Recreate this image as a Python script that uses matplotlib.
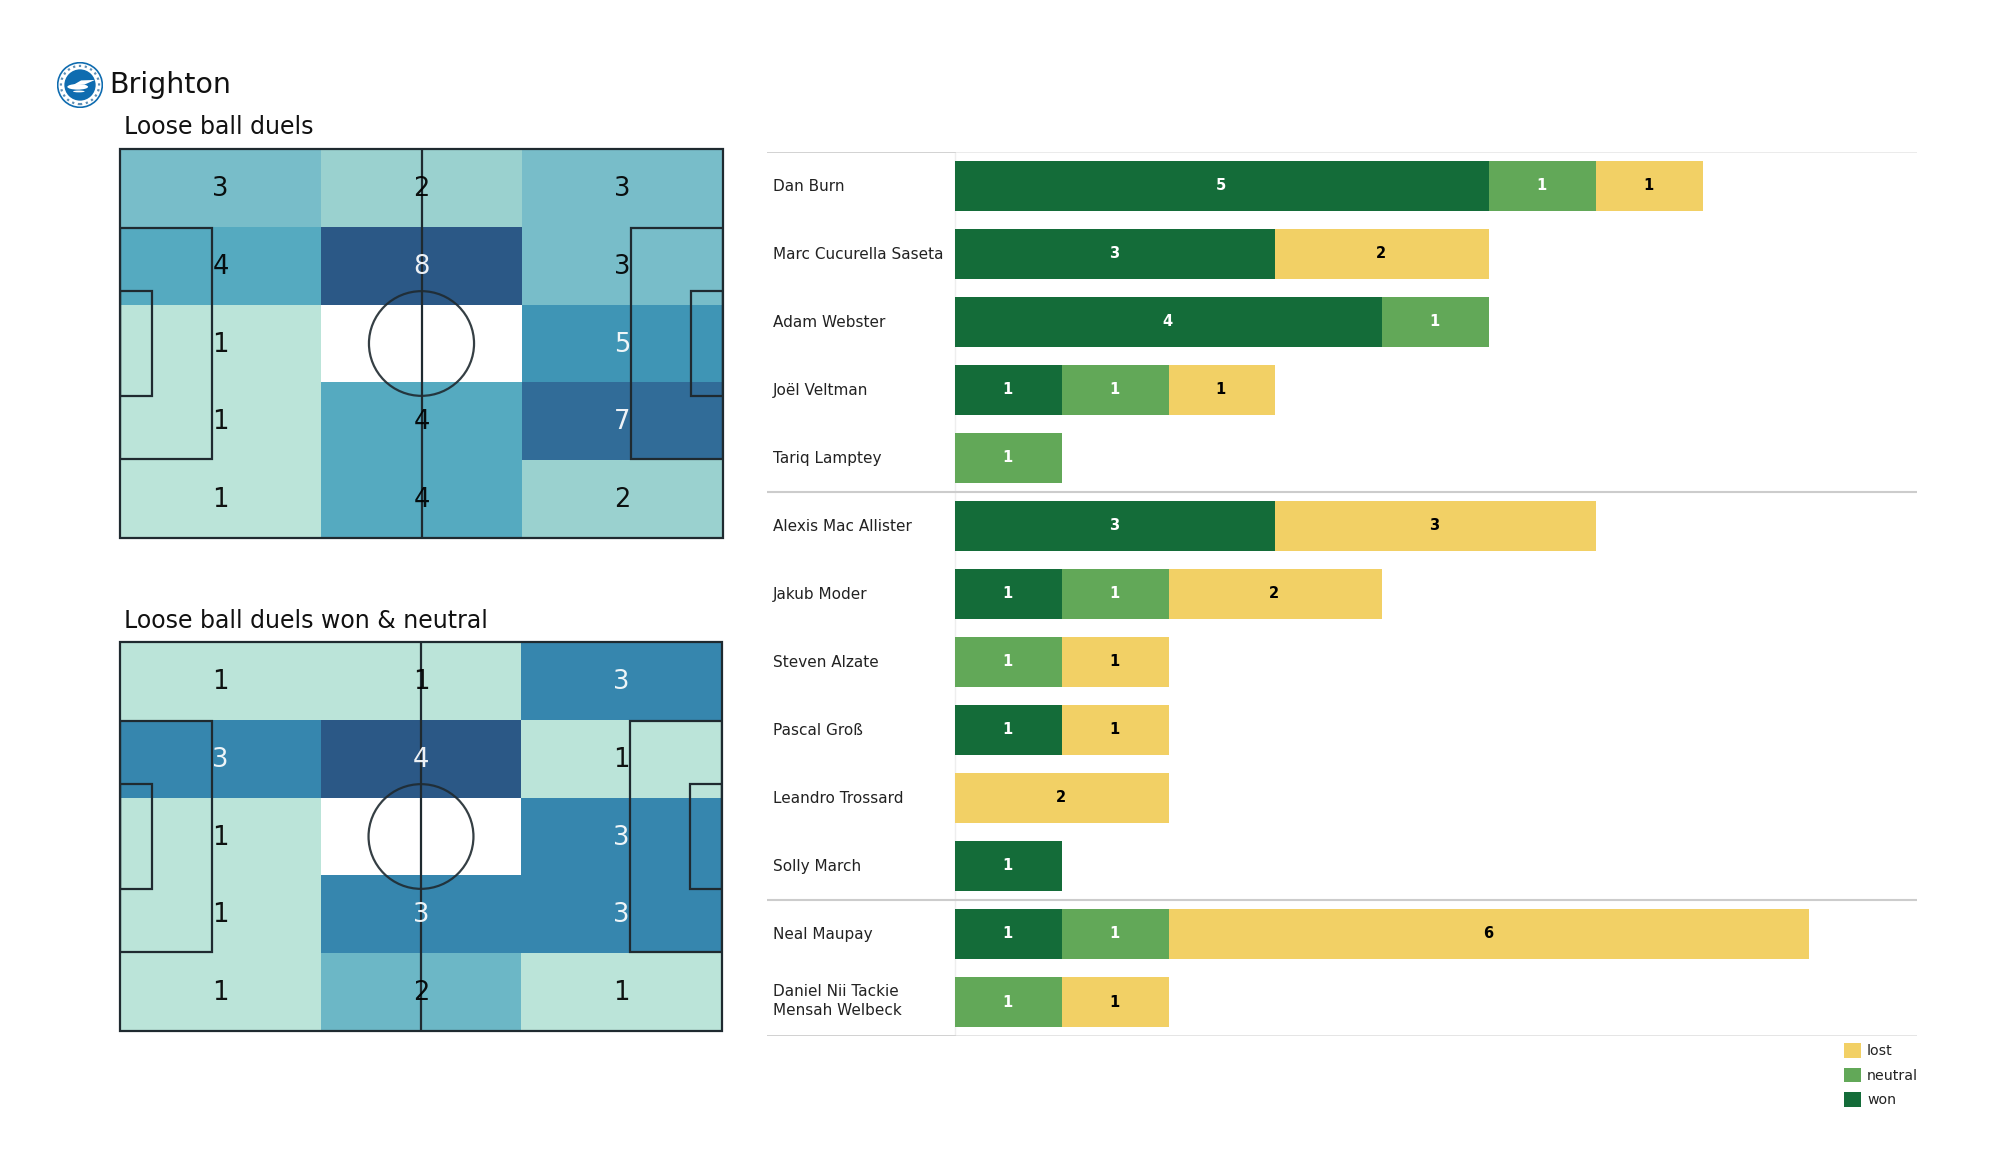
import matplotlib
matplotlib.use("Agg")
import matplotlib.pyplot as plt
import numpy as np
from matplotlib.colors import LinearSegmentedColormap
from matplotlib.patches import Circle, Ellipse, Rectangle, Polygon

# DATA
team = "Brighton"
title_all = "Loose ball duels"
title_won = "Loose ball duels won & neutral"

# rows are top to bottom, columns left to right
duels_all = [[3, 2, 3],
             [4, 8, 3],
             [1, 0, 5],
             [1, 4, 7],
             [1, 4, 2]]
duels_won = [[1, 1, 3],
             [3, 4, 1],
             [1, 0, 3],
             [1, 3, 3],
             [1, 2, 1]]

players = ["Dan Burn", "Marc Cucurella Saseta", "Adam Webster", "Joël Veltman", "Tariq Lamptey",
           "Alexis Mac Allister", "Jakub Moder", "Steven Alzate", "Pascal Groß", "Leandro Trossard",
           "Solly March", "Neal Maupay", "Daniel Nii Tackie\nMensah Welbeck"]
won = [5, 3, 4, 1, 0, 3, 1, 0, 1, 0, 1, 1, 0]
neutral = [1, 0, 1, 1, 1, 0, 1, 1, 0, 0, 0, 1, 1]
lost = [1, 2, 0, 1, 0, 3, 2, 1, 1, 2, 0, 6, 1]
group_ends = [4, 10]

W, H = 2000, 1175
WON_COL = "#146C39"
NEUTRAL_COL = "#62A858"
LOST_COL = "#F2D065"
LINE_COL = "#1f2a30"

heat_cmap = LinearSegmentedColormap.from_list("heat", [
    (0.0, "#BBE4D9"), (0.143, "#9AD1CF"), (0.286, "#78BDC9"), (0.43, "#54AAC0"),
    (0.57, "#3F95B5"), (0.667, "#3686AE"), (0.857, "#316C98"), (1.0, "#2B5886")])
heat_cmap.set_under("white")


def axes_px(fig, x0, y0, x1, y1):
    # pixel box measured from the top left corner of the image
    return fig.add_axes([x0 / W, 1 - y1 / H, (x1 - x0) / W, (y1 - y0) / H])


def draw_pitch(ax, values):
    values = np.array(values)
    vmax = values.max()
    xs = np.linspace(0, 105, 4)
    ys = np.linspace(68, 0, 6)
    ax.pcolormesh(xs, ys, values, cmap=heat_cmap, vmin=1, vmax=vmax, zorder=1)
    for r in range(values.shape[0]):
        for c in range(values.shape[1]):
            v = values[r, c]
            if v == 0:
                continue
            col = "white" if (v - 1) / (vmax - 1) > 0.5 else "black"
            ax.text((xs[c] + xs[c + 1]) / 2, (ys[r] + ys[r + 1]) / 2 - 0.2, str(v), color=col,
                    fontsize=18.5, ha="center", va="center", zorder=3, alpha=0.92)
    lw = 1.6
    ax.add_patch(Rectangle((0, 0), 105, 68, fill=False, ec=LINE_COL, lw=lw, zorder=2, clip_on=False))
    ax.plot([52.5, 52.5], [0, 68], color=LINE_COL, lw=lw, zorder=2)
    ax.add_patch(Circle((52.5, 34), 9.15, fill=False, ec=LINE_COL, lw=lw, alpha=0.9, zorder=2))
    for x, w in [(0, 16), (105 - 16, 16)]:
        ax.add_patch(Rectangle((x, 13.84), w, 40.32, fill=False, ec=LINE_COL, lw=lw, zorder=2))
    for x, w in [(0, 5.6), (105 - 5.6, 5.6)]:
        ax.add_patch(Rectangle((x, 24.84), w, 18.32, fill=False, ec=LINE_COL, lw=lw, zorder=2))
    ax.set_xlim(0, 105)
    ax.set_ylim(0, 68)
    ax.axis("off")


def draw_logo(ax):
    blue = "#0f6cb0"
    ax.add_patch(Circle((0, 0), 0.97, fc="white", ec=blue, lw=1.2))
    ax.add_patch(Circle((0, 0), 0.68, fc=blue, ec="none"))
    ax.add_patch(Circle((0, 0), 0.83, fill=False, ec="#5f8fb5", lw=1.6, ls=":"))
    ax.add_patch(Ellipse((-0.1, -0.08), 0.9, 0.24, fc="white", ec="none"))
    ax.add_patch(Polygon([[-0.3, 0.0], [0.2, 0.02], [0.65, 0.22], [0.05, 0.2]], fc="white", ec="none"))
    ax.add_patch(Ellipse((-0.05, -0.28), 0.5, 0.08, fc="white", ec="none"))
    ax.set_xlim(-1, 1)
    ax.set_ylim(-1, 1)
    ax.axis("off")


def main():
    fig = plt.figure(figsize=(W / 100, H / 100), dpi=100, facecolor="white")

    draw_logo(axes_px(fig, 57, 62, 103, 108))
    fig.text(109 / W, 1 - 93 / H, team, fontsize=20.5, va="baseline", color="#111111")
    fig.text(124 / W, 1 - 134 / H, title_all, fontsize=17, va="baseline", color="#111111")
    fig.text(124 / W, 1 - 628 / H, title_won, fontsize=17, va="baseline", color="#111111")

    draw_pitch(axes_px(fig, 120, 149, 723, 538), duels_all)
    draw_pitch(axes_px(fig, 120, 642, 722, 1031), duels_won)

    # bars: x=0 is the name column edge, y is the row number
    unit = 106.8
    left, right = 767, 1917
    top, bottom = 152, 1036
    row_h = 68.0
    first_center = 186.0
    ax = axes_px(fig, left, top, right, bottom)
    ax.set_xlim((left - 955) / unit, (right - 955) / unit)
    ax.set_ylim((bottom - first_center) / row_h, (top - first_center) / row_h)
    ax.axis("off")

    y = np.arange(len(players))
    won_a, neutral_a, lost_a = np.array(won), np.array(neutral), np.array(lost)
    h = 50 / row_h
    b_won = ax.barh(y, won_a, height=h, color=WON_COL, label="won")
    b_neu = ax.barh(y, neutral_a, left=won_a, height=h, color=NEUTRAL_COL, label="neutral")
    b_los = ax.barh(y, lost_a, left=won_a + neutral_a, height=h, color=LOST_COL, label="lost")

    for i in y:
        # center_baseline keeps single names level, two line names need plain center
        name_va = "center" if "\n" in players[i] else "center_baseline"
        ax.text((773 - 955) / unit, i - 0.01, players[i], fontsize=11, va=name_va, ha="left",
                color="#222222", linespacing=1.35)
        for val, start, col in [(won_a[i], 0, "white"),
                                (neutral_a[i], won_a[i], "white"),
                                (lost_a[i], won_a[i] + neutral_a[i], "black")]:
            if val > 0:
                ax.text(start + val / 2 - 0.01, i, str(val), color=col, fontsize=10.5, fontweight="bold",
                        ha="center", va="center")

    # row separators
    xmin, xmax = ax.get_xlim()
    ax.plot([xmin, xmax], [-0.5, -0.5], color="#e8e8e8", lw=1.2)
    ax.plot([xmin, 0], [-0.5, -0.5], color="#cfcfcf", lw=1.2)
    for g in group_ends:
        ax.plot([xmin, xmax], [g + 0.5, g + 0.5], color="#cccccc", lw=1.5)
    ax.plot([xmin, xmax], [12.5, 12.5], color="#e0e0e0", lw=1.2)
    ax.plot([xmin, 0], [12.5, 12.5], color="#cfcfcf", lw=1.2)
    ax.plot([0, 0], [-0.5, 12.5], color="#eeeeee", lw=1, zorder=0)

    fig.legend([b_los, b_neu, b_won], ["lost", "neutral", "won"], loc="upper left",
               bbox_to_anchor=(1840 / W, 1 - 1039 / H), frameon=False, fontsize=10.2,
               handlelength=1.2, handleheight=1.2, handletextpad=0.4, labelspacing=0.66,
               borderpad=0.3, borderaxespad=0, labelcolor="#222222")

    plt.savefig("out.png", dpi=100)


if __name__ == "__main__":
    main()
